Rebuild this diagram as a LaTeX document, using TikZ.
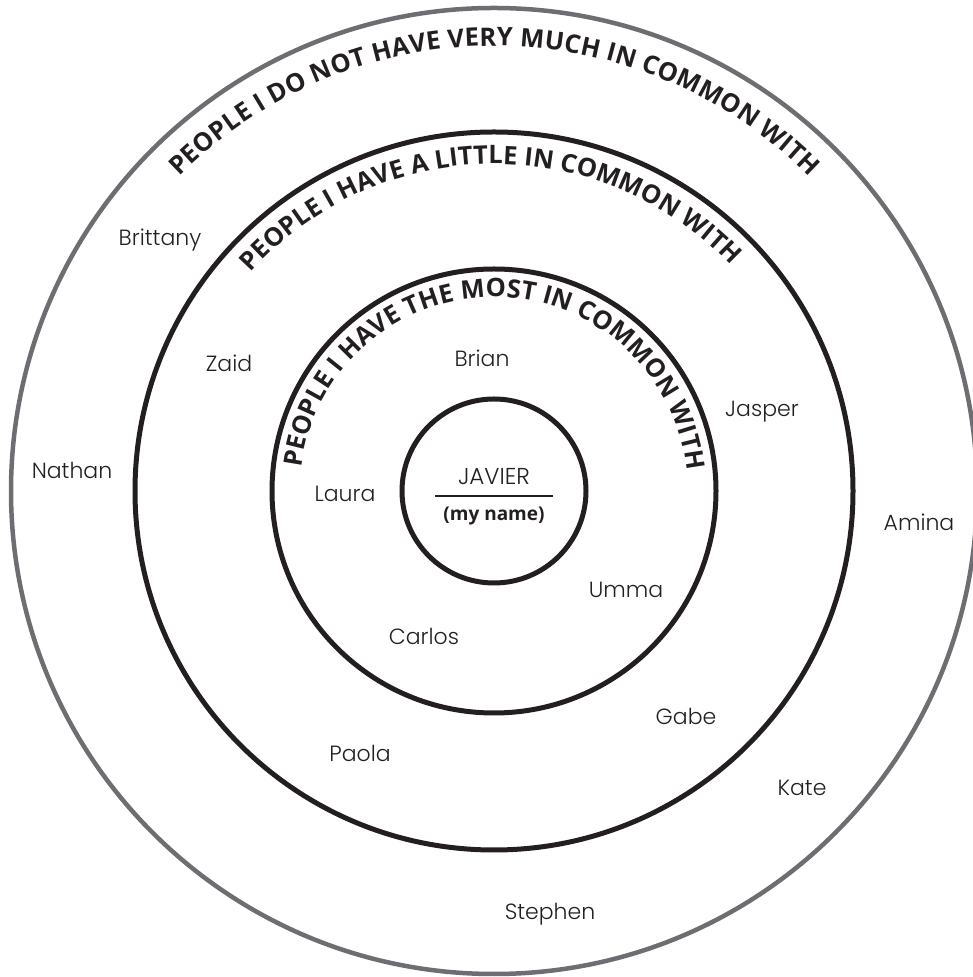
\documentclass[tikz,border=0pt]{standalone}
\usepackage{fontspec}
\newfontfamily\titlefont{Open Sans}
\newfontfamily\handfont{Poppins Light}
\usetikzlibrary{decorations.text}
\definecolor{ringgray}{HTML}{6D6E71}
\definecolor{inkblack}{HTML}{231F20}
\tikzset{
  ring/.style={draw=inkblack, line width=5pt},
  outer ring/.style={draw=ringgray, line width=4.5pt},
  friend/.style={font=\handfont\fontsize{22}{26}\selectfont, text=inkblack, inner sep=0pt},
  arc label/.style={decorate, decoration={text along path, text align=fit to path,
    text={|\color{inkblack}\titlefont\bfseries\fontsize{25.5}{30}\selectfont|#1}}},
}
\begin{document}
\begin{tikzpicture}[x=1pt,y=1pt]
  \useasboundingbox (0,0) rectangle (972,977);
  \coordinate (c) at (494,486);
  % rings
  \draw[outer ring] (c) circle[radius=483];
  \draw[ring] (c) circle[radius=359];
  \draw[ring] (c) circle[radius=222];
  \draw[ring] (c) circle[radius=92];
  % ring titles
  \path[arc label={PEOPLE I DO NOT HAVE VERY MUCH IN COMMON WITH}]
    (c) ++(135:445) arc[start angle=135, end angle=45, radius=445];
  \path[arc label={PEOPLE I HAVE A LITTLE IN COMMON WITH}]
    (c) ++(138:327) arc[start angle=138, end angle=44, radius=327];
  \path[arc label={PEOPLE I HAVE THE MOST IN COMMON WITH}]
    (c) ++(173:194) arc[start angle=173, end angle=6, radius=194];
  % my name
  \node[friend, font=\handfont\fontsize{23}{27}\selectfont] (me) at (494,500) {JAVIER};
  \coordinate (lineL) at (435,481);
  \coordinate (lineR) at (553,481);
  \draw[inkblack, line width=1.8pt] (lineL) -- (lineR);
  \node[font=\titlefont\bfseries\fontsize{19}{23}\selectfont, text=inkblack, inner sep=0pt] (myname) at (494,461) {(my name)};
  % names
  \node[friend] (brittany) at (160,737) {Brittany};
  \node[friend] (zaid) at (229,614) {Zaid};
  \node[friend] (brian) at (482,619) {Brian};
  \node[friend] (jasper) at (762,565) {Jasper};
  \node[friend] (nathan) at (72,507) {Nathan};
  \node[friend] (laura) at (345,483) {Laura};
  \node[friend] (amina) at (919,455) {Amina};
  \node[friend] (umma) at (626,387) {Umma};
  \node[friend] (carlos) at (424,341) {Carlos};
  \node[friend] (gabe) at (686,261) {Gabe};
  \node[friend] (paola) at (360,224) {Paola};
  \node[friend] (kate) at (802,189) {Kate};
  \node[friend] (stephen) at (550,63) {Stephen};
\end{tikzpicture}
\end{document}
